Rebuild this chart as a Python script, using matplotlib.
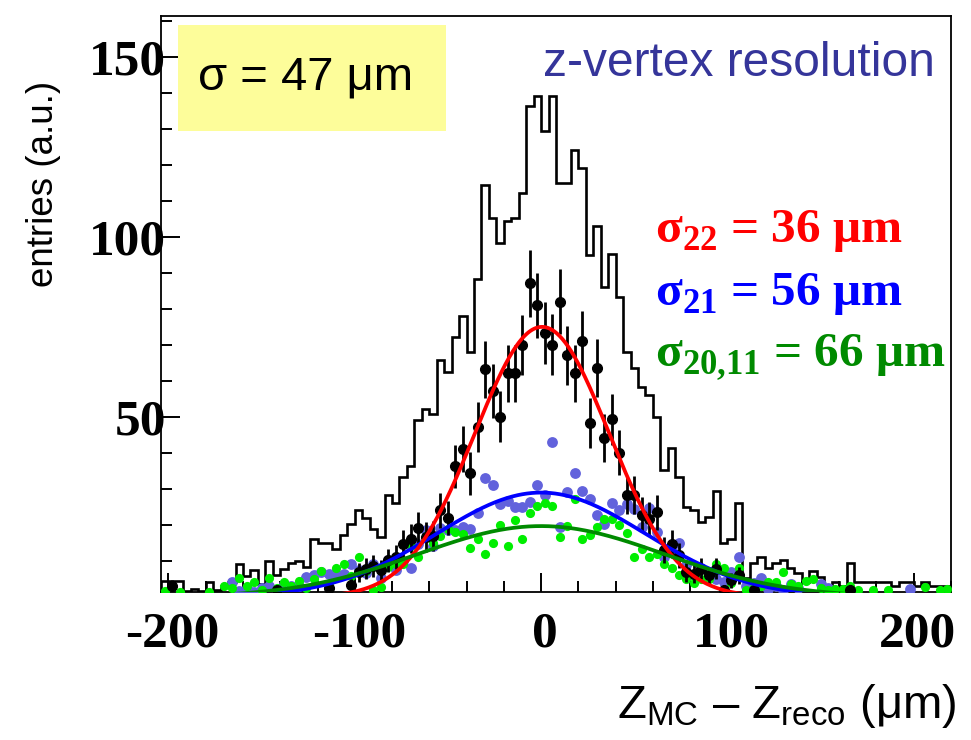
import numpy as np
import matplotlib
matplotlib.use("Agg")
import matplotlib.pyplot as plt
import matplotlib.transforms as mtransforms
from matplotlib.ticker import MultipleLocator
from matplotlib.font_manager import FontProperties, fontManager

plt.rcParams["axes.unicode_minus"] = False
plt.rcParams["mathtext.fontset"] = "custom"
plt.rcParams["mathtext.rm"] = "Liberation Sans"
plt.rcParams["mathtext.bf"] = "Liberation Serif:bold"

# ---- data ---------------------------------------------------------------
# all reconstructed vertices, 4 um bins from -204 to 220 um
hist_edges = np.arange(-204, 221, 4)
hist_counts = [
    4.4, 4.4, 4.4, 1.7, 2.3, 1.7, 4.3, 2.0, 3.0, 4.2,
    9.3, 5.8, 7.6, 3.5, 10.0, 6.2, 7.9, 9.4, 10.0, 8.3,
    16.2, 15.0, 15.0, 13.2, 17.1, 20.4, 24.1, 22.0, 18.9, 16.8,
    28.2, 26.1, 33.3, 36.3, 49.1, 52.3, 50.9, 65.9, 62.5, 72.1,
    78.0, 68.1, 88.3, 114.3, 105.2, 98.2, 104.3, 105.2, 112.3, 136.2,
    139.2, 129.3, 139.2, 115.0, 115.0, 124.2, 119.1, 95.0, 102.9, 86.2,
    95.2, 83.4, 68.1, 63.5, 58.4, 56.1, 50.1, 35.3, 41.3, 33.2,
    25.1, 24.2, 20.9, 22.3, 29.3, 14.9, 16.0, 26.2, 5.2, 9.4,
    11.2, 8.0, 9.4, 10.3, 8.0, 6.6, 4.3, 7.3, 5.5, 3.1,
    4.3, 3.1, 9.4, 4.3, 4.3, 4.3, 4.3, 4.3, 3.1, 4.3,
    4.3, 3.1, 4.3, 3.1, 3.1, 3.1,
]

# per-class vertex samples, same binning (bin centres)
bin_centres = np.arange(-202, 220, 4)
sigma22_counts = [
    0, 3.0, 0, 0, 0, 0, 0, 0, 0, 0,
    0, 0, 0, 0, 0, 2.0, 0, 0, 0, 0,
    0, 0, 2.5, 0, 0, 3.3, 6.9, 7.9, 8.6, 7.5,
    10.2, 11.1, 14.8, 16.2, 19.1, 16.7, 17.0, 24.1, 22.0, 36.3,
    41.1, 34.3, 47.2, 63.2, 57.2, 50.1, 62.1, 62.1, 70.0, 87.1,
    81.0, 73.3, 70.1, 82.0, 67.1, 62.1, 71.0, 48.2, 63.6, 44.2,
    49.3, 40.1, 28.3, 28.3, 22.9, 21.8, 23.5, 13.0, 14.8, 11.6,
    6.9, 6.5, 7.9, 6.0, 7.9, 2.0, 4.6, 6.0, 0, 1.9,
    0, 0, 0, 0, 0, 0, 0, 0, 0, 0,
    0, 0, 1.9, 0, 0, 0, 0, 0, 0, 0,
    0, 0, 0, 0, 0, 0,
]
sigma21_counts = [
    0, 0, 0, 0, 0, 0, 0, 0, 0, 4.2,
    1.8, 2.5, 1.5, 2.5, 3.0, 2.0, 3.5, 3.0, 3.0, 5.5,
    6.0, 6.9, 6.5, 6.3, 6.5, 9.1, 7.5, 6.7, 9.2, 5.4,
    10.4, 7.6, 10.0, 8.1, 14.8, 18.5, 14.3, 19.3, 18.7, 18.5,
    19.4, 19.0, 23.2, 33.1, 31.2, 25.9, 26.8, 25.0, 25.0, 26.4,
    31.2, 28.3, 43.1, 19.5, 29.2, 34.3, 29.3, 27.1, 22.7, 20.4,
    26.1, 24.3, 25.7, 24.5, 19.4, 24.7, 18.1, 11.1, 13.0, 15.0,
    9.0, 6.0, 8.0, 7.0, 5.0, 4.2, 7.0, 11.1, 3.0, 4.0,
    5.4, 2.3, 3.0, 1.9, 3.5, 2.5, 0, 0, 3.7, 2.5,
    0, 0, 0, 0, 0, 0, 0, 0, 0, 0,
    2.3, 0, 0, 0, 0, 0,
]
sigma2011_counts = [
    1.6, 0, 1.5, 0, 0, 0, 1.5, 0, 3.0, 2.5,
    5.3, 3.2, 4.2, 2.0, 5.2, 2.5, 4.2, 3.0, 4.5, 2.5,
    5.0, 7.2, 3.7, 8.2, 9.1, 5.8, 11.1, 7.2, 2.0, 2.9,
    8.3, 9.1, 9.1, 14.1, 11.1, 16.9, 15.0, 16.9, 19.0, 18.1,
    17.6, 13.6, 16.0, 12.0, 15.0, 20.0, 14.1, 21.3, 16.2, 23.2,
    25.3, 26.2, 25.3, 16.7, 19.6, 27.3, 16.2, 17.1, 19.4, 21.8,
    21.8, 19.9, 17.8, 11.1, 13.4, 11.1, 12.0, 9.3, 8.0, 6.2,
    5.1, 4.0, 4.9, 5.1, 9.3, 8.2, 4.0, 8.2, 2.0, 2.8,
    3.2, 4.2, 4.2, 6.9, 3.5, 3.2, 4.5, 5.1, 2.5, 2.0,
    2.3, 2.3, 3.0, 2.0, 0, 2.0, 0, 2.0, 0, 0,
    0, 0, 2.7, 0, 2.0, 2.3,
]

# gaussian fits: amplitude, mean, sigma (um)
fit_amp = [75.0, 29.0, 19.7]
fit_mean = [0.5, 0.0, 0.0]
fit_sigma = [36.0, 56.0, 66.0]
fit_colors = ["#ff0000", "#0000ff", "#008a00"]

x_ticks = [-200, -100, 0, 100, 200]
y_ticks = [50, 100, 150]

# ---- fonts --------------------------------------------------------------
installed = {f.name for f in fontManager.ttflist}
sans = "Liberation Sans"
narrow = "Liberation Sans Narrow" if "Liberation Sans Narrow" in installed \
    else None

# ---- figure -------------------------------------------------------------
fig = plt.figure(figsize=(9.71, 7.40), dpi=100)
ax = fig.add_axes([161 / 971, 1 - 592 / 740, 790 / 971, 576 / 740])
ax.set_xlim(-204, 220)
ax.set_ylim(1.4, 161.3)

ax.stairs(hist_counts, hist_edges, color="black", lw=1.9, zorder=2)


def shown(vals):
    v = np.asarray(vals, dtype=float)
    return v > 0


m21 = shown(sigma21_counts)
ax.plot(bin_centres[m21], np.asarray(sigma21_counts)[m21], "o", ms=7.8,
        color="#6262dc", mec="none", zorder=3)
m20 = shown(sigma2011_counts)
ax.plot(bin_centres[m20], np.asarray(sigma2011_counts)[m20], "o", ms=6.6,
        color="#00ee00", mec="none", zorder=4)
m22 = shown(sigma22_counts)
y22 = np.asarray(sigma22_counts)[m22]
ax.errorbar(bin_centres[m22], y22, yerr=np.sqrt(y22), fmt="o", ms=7.0,
            color="black", ecolor="black", elinewidth=2.0, capsize=0,
            zorder=5)

xf = np.linspace(-200, 200, 801)
for amp, mu, sig, col, z in zip(fit_amp, fit_mean, fit_sigma, fit_colors,
                                [7, 6, 8]):
    ax.plot(xf, amp * np.exp(-0.5 * ((xf - mu) / sig) ** 2), color=col,
            lw=2.7, zorder=z, solid_capstyle="butt")

# axes styling
for side in ["left", "bottom", "top", "right"]:
    ax.spines[side].set_linewidth(1.3)
ax.set_xticks(x_ticks)
ax.set_yticks(y_ticks)
ax.xaxis.set_minor_locator(MultipleLocator(20))
ax.yaxis.set_minor_locator(MultipleLocator(10))
ax.tick_params(which="both", direction="in", top=False, right=False,
               width=1.4)
ax.tick_params(which="major", length=14)
ax.tick_params(which="minor", length=8)
ax.tick_params(axis="x", which="major", pad=14)
ax.tick_params(axis="y", which="major", pad=-3.5)
tick_font = FontProperties(family="Liberation Serif", weight="bold", size=37)
shift = mtransforms.ScaledTranslation(4 / 100, 0, fig.dpi_scale_trans)
for lab in ax.get_xticklabels():
    lab.set_fontproperties(tick_font)
    lab.set_transform(lab.get_transform() + shift)
for lab in ax.get_yticklabels():
    lab.set_fontproperties(tick_font)

if narrow:
    fig.text(44 / 971, 1 - 184 / 740, "entries (a.u.)", rotation=90,
             ha="center", va="center", family=narrow, size=31)
else:
    fig.text(44 / 971, 1 - 184 / 740, "entries (a.u.)", rotation=90,
             ha="center", va="center", family=sans, size=26.5)
fig.text(957 / 971, 1 - 718 / 740,
         r"Z$_{\mathregular{MC}}$ – Z$_{\mathregular{reco}}$ (μm)",
         ha="right", va="baseline", family=sans, size=34)

# annotation box
fig.patches.append(plt.Rectangle((178 / 971, 1 - 131 / 740),
                                 268 / 971, 106 / 740,
                                 transform=fig.transFigure,
                                 facecolor="#fdfd9a", edgecolor="none",
                                 zorder=0))
fig.text(198 / 971, 1 - 89 / 740, "σ = 47 μm", ha="left", va="baseline",
         family=sans, size=34)
fig.text(543 / 971, 1 - 76 / 740, "z-vertex resolution", ha="left",
         va="baseline", family=sans, size=34.5, color="#35359a")

serif_b = dict(family="Liberation Serif", weight="bold", size=35.5)
labels = [
    (r"σ$_{\mathbf{22}}$ = 36 μm", 242, fit_colors[0]),
    (r"σ$_{\mathbf{21}}$ = 56 μm", 305, fit_colors[1]),
    (r"σ$_{\mathbf{20{,}11}}$ = 66 μm", 367, fit_colors[2]),
]
for txt, ybase, col in labels:
    fig.text(655 / 971, 1 - ybase / 740, txt, ha="left", va="baseline",
             color=col, **serif_b)

fig.savefig("out.png", dpi=100)
